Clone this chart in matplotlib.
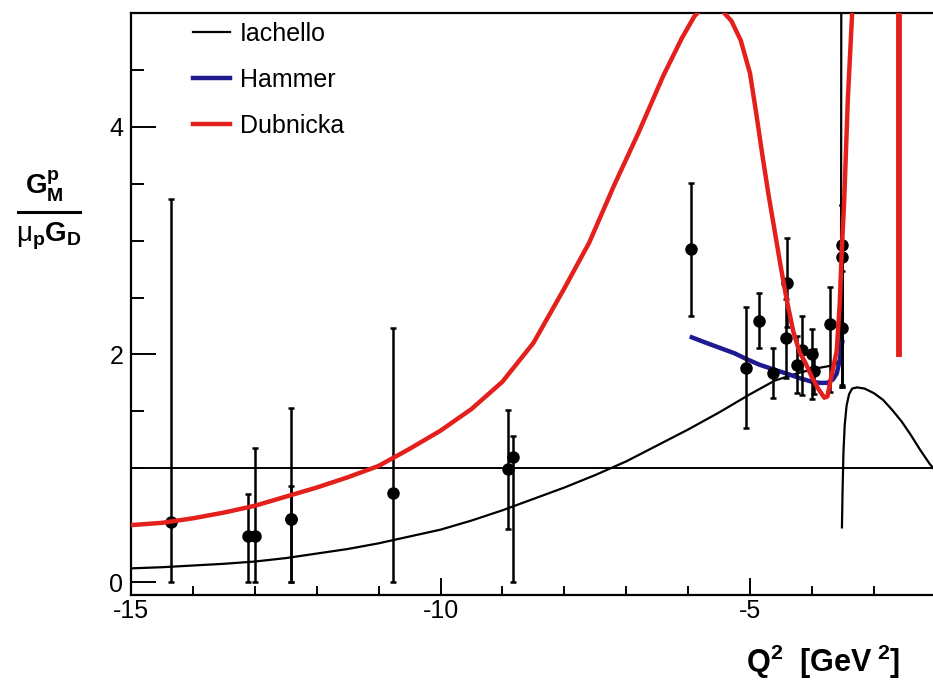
import numpy as np
import matplotlib.pyplot as plt
from matplotlib.lines import Line2D

plt.rcParams['font.family'] = ['Liberation Sans', 'DejaVu Sans']
plt.rcParams['mathtext.fontset'] = 'custom'
plt.rcParams['mathtext.rm'] = 'Liberation Sans'
plt.rcParams['mathtext.bf'] = 'Liberation Sans:bold'
plt.rcParams['mathtext.it'] = 'Liberation Sans:italic'

# measured points (Q^2, ratio, lower err, upper err)
q2_data = [-14.35, -13.11, -13.00, -12.42, -12.42, -10.77, -8.91, -8.83,
           -5.95, -5.06, -4.85, -4.63, -4.40, -4.42, -4.24, -4.16, -4.00,
           -3.97, -3.71, -3.52, -3.52, -3.52]
gm_data = [0.53, 0.40, 0.40, 0.55, 0.55, 0.78, 0.99, 1.10,
           2.93, 1.88, 2.29, 1.84, 2.63, 2.14, 1.91, 2.04, 2.00,
           1.85, 2.27, 2.96, 2.86, 2.23]
err_lo = [0.53, 0.40, 0.40, 0.55, 0.55, 0.78, 0.52, 1.10,
          0.59, 0.53, 0.23, 0.22, 0.39, 0.35, 0.25, 0.40, 0.39,
          0.20, 0.60, 1.25, 1.15, 0.50]
err_hi = [2.84, 0.37, 0.78, 0.98, 0.29, 1.45, 0.52, 0.18,
          0.58, 0.54, 0.25, 0.22, 0.39, 0.35, 0.25, 0.30, 0.22,
          0.20, 0.32, 0.35, 0.45, 0.50]

# Iachello model, below and above threshold
iach_x_left = [-15, -14.5, -14, -13.5, -13, -12.5, -12, -11.5, -11, -10.5,
               -10, -9.5, -9, -8.5, -8, -7.5, -7, -6.5, -6, -5.5, -5, -4.6,
               -4.2, -3.9, -3.7, -3.6, -3.55, -3.53, -3.525]
iach_y_left = [0.12, 0.13, 0.145, 0.16, 0.18, 0.21, 0.25, 0.29, 0.34, 0.40,
               0.46, 0.54, 0.63, 0.73, 0.83, 0.94, 1.06, 1.20, 1.34, 1.49,
               1.65, 1.77, 1.84, 1.88, 1.90, 1.92, 1.96, 2.3, 5.5]
iach_x_right = [-3.515, -3.505, -3.49, -3.47, -3.44, -3.40, -3.35, -3.27,
                -3.15, -3.0, -2.85, -2.7, -2.55, -2.4, -2.25, -2.1, -2.04]
iach_y_right = [0.48, 0.8, 1.15, 1.38, 1.55, 1.65, 1.70, 1.71,
                1.70, 1.66, 1.60, 1.51, 1.41, 1.29, 1.16, 1.04, 1.0]

# Hammer model
hammer_x = [-5.94, -5.7, -5.5, -5.25, -5.06, -4.85, -4.63, -4.4, -4.19,
            -4.0, -3.87, -3.75, -3.66, -3.60, -3.55, -3.51]
hammer_y = [2.15, 2.10, 2.06, 2.01, 1.96, 1.91, 1.87, 1.83, 1.79,
            1.76, 1.75, 1.75, 1.78, 1.83, 1.95, 2.11]

# Dubnicka model
dub_x = [-15, -14.5, -14, -13.5, -13, -12.5, -12, -11.5, -11, -10.5,
         -10, -9.5, -9, -8.5, -8, -7.6, -7.2, -6.8, -6.4, -6.1,
         -5.9, -5.75, -5.6, -5.45, -5.3, -5.15, -5.0, -4.9, -4.8, -4.7,
         -4.6, -4.5, -4.4, -4.3, -4.2, -4.1, -4.0, -3.9, -3.8, -3.75,
         -3.7, -3.65, -3.6, -3.55, -3.52, -3.48, -3.42, -3.35, -3.30]
dub_y = [0.50, 0.52, 0.56, 0.61, 0.67, 0.75, 0.83, 0.92, 1.02, 1.17,
         1.33, 1.52, 1.76, 2.10, 2.58, 2.98, 3.48, 3.95, 4.45, 4.78,
         4.97, 5.06, 5.07, 5.02, 4.93, 4.76, 4.47, 4.12, 3.75, 3.40,
         3.08, 2.76, 2.46, 2.20, 2.02, 1.92, 1.80, 1.70, 1.62, 1.63,
         1.77, 1.90, 2.03, 2.45, 2.89, 3.33, 4.24, 5.0, 5.4]
dub_spike_x = [-2.59, -2.59]
dub_spike_y = [1.98, 5.3]

fig = plt.figure(figsize=(9.33, 6.81), dpi=100)
ax = fig.add_axes([0.1404, 0.1263, 0.8596, 0.8546])

ax.axhline(1.0, color='black', lw=1.4, zorder=1)
ax.plot(iach_x_left, iach_y_left, color='black', lw=1.6, label='Iachello', zorder=3)
ax.plot(iach_x_right, iach_y_right, color='black', lw=1.6, zorder=3)
ax.plot(hammer_x, hammer_y, color='#1f1a8f', lw=3.2, label='Hammer', zorder=4)
ax.plot(dub_x, dub_y, color='#e3201c', lw=3.2, label='Dubnicka', zorder=5)
ax.plot(dub_spike_x, dub_spike_y, color='#e3201c', lw=4.2, solid_capstyle='butt', zorder=5)

ax.errorbar(q2_data, gm_data, yerr=[err_lo, err_hi], fmt='o', color='black',
            ms=8, elinewidth=1.8, capsize=2.5, capthick=1.8, zorder=4)

ax.set_xlim(-15, -2.044)
ax.set_ylim(-0.114, 5.0)
ax.set_xticks([-15, -10, -5])
ax.set_xticklabels(['-15', '-10', '-5'])
ax.set_xticks(np.arange(-15, -2, 1), minor=True)
ax.set_yticks([0, 2, 4])
ax.set_yticks(np.arange(0, 5.01, 0.5), minor=True)
ax.tick_params(axis='both', which='both', direction='in', width=1.4, labelsize=18)
ax.tick_params(axis='x', which='major', length=12, pad=3)
ax.tick_params(axis='x', which='minor', length=6.5)
ax.tick_params(axis='y', which='major', length=18, pad=5.5)
ax.tick_params(axis='y', which='minor', length=9.5)
ax.spines['right'].set_visible(False)
for s in ['left', 'top', 'bottom']:
    ax.spines[s].set_linewidth(1.6)

ax.legend(loc='upper left', bbox_to_anchor=(0.0773, 0.985), frameon=False,
          fontsize=18, handlelength=1.48, handletextpad=0.4, labelspacing=0.88,
          borderpad=0, borderaxespad=0)

# y axis title as a stacked fraction
fig.text(0.0475, 1 - 195 / 681, r'$\mathbf{G}^{\mathbf{p}}_{\mathbf{M}}$',
         fontsize=20, ha='center', va='baseline')
fig.add_artist(Line2D([18 / 933, 80 / 933], [1 - 212 / 681, 1 - 212 / 681],
                      color='black', lw=2.2))
fig.text(0.0525, 1 - 242 / 681, r'μ$_{\mathbf{p}}$$\mathbf{G}_{\mathbf{D}}$',
         fontsize=20, ha='center', va='baseline')

fig.text(0.965, 1 - 672 / 681, r'Q$^{\mathbf{2}}$  [GeV$^{\mathbf{\ 2}}$]',
         fontsize=22, fontweight='bold', ha='right', va='baseline')

fig.savefig('out.png', dpi=100)
